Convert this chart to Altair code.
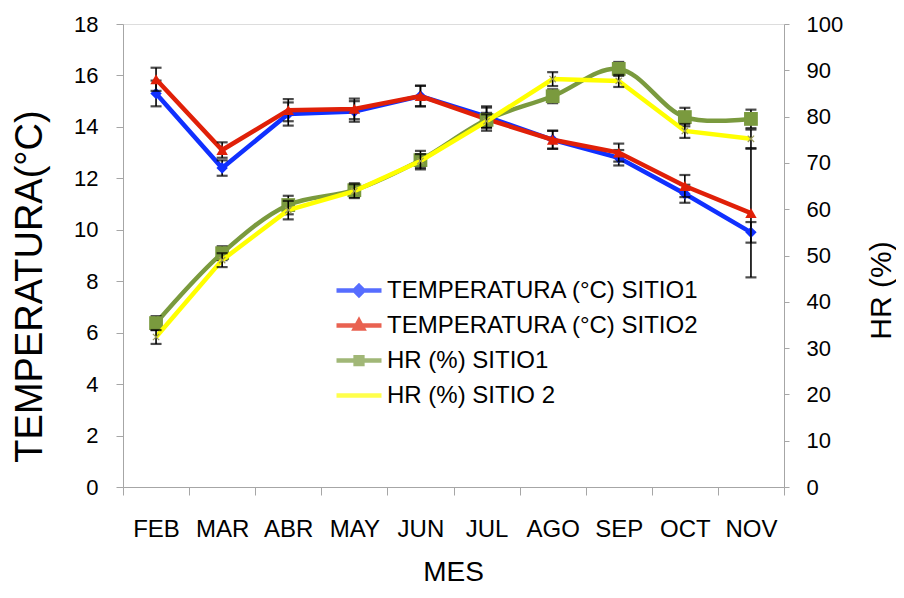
import altair as alt
import pandas as pd

# ── data ─────────────────────────────────────────────────────────────────────
meses = ["FEB", "MAR", "ABR", "MAY", "JUN", "JUL", "AGO", "SEP", "OCT", "NOV"]

temp_sitio1 = [15.3, 12.4, 14.5, 14.6, 15.2, 14.4, 13.5, 12.8, 11.4, 9.9]
temp_sitio1_err = [0.5, 0.3, 0.45, 0.4, 0.4, 0.4, 0.35, 0.3, 0.35, 0.4]
temp_sitio2 = [15.85, 13.1, 14.65, 14.7, 15.2, 14.3, 13.5, 13.0, 11.7, 10.65]
temp_sitio2_err = [0.45, 0.3, 0.43, 0.4, 0.4, 0.45, 0.35, 0.35, 0.43, 2.5]

hr_sitio1 = [35.4, 50.5, 60.9, 64.1, 70.6, 79.3, 84.4, 90.3, 79.9, 79.5]
hr_sitio1_err = [1.5, 1.5, 2.0, 1.5, 2.0, 1.5, 1.5, 1.5, 2.0, 2.0]
hr_sitio2 = [32.4, 49.0, 59.8, 63.9, 70.4, 79.0, 88.1, 87.7, 76.9, 75.2]
hr_sitio2_err = [1.5, 1.5, 2.0, 1.5, 1.5, 1.5, 1.5, 1.3, 1.5, 2.0]

series = [
    "TEMPERATURA (°C) SITIO1",
    "TEMPERATURA (°C) SITIO2",
    "HR (%) SITIO1",
    "HR (%) SITIO 2",
]
colores = ["#1030FF", "#E02008", "#7A9A3E", "#FFFF00"]

FONT = "Liberation Sans"
AXIS_GREY = "#A6A6A6"


def tabla(valores, errores):
    return pd.DataFrame({
        "mes": meses,
        "valor": valores,
        "lo": [v - e for v, e in zip(valores, errores)],
        "hi": [v + e for v, e in zip(valores, errores)],
    })


x_enc = alt.X(
    "mes:N",
    sort=meses,
    scale=alt.Scale(type="band", paddingInner=0, paddingOuter=0),
    axis=alt.Axis(
        title="MES", titleFontSize=28, titleFontWeight="normal", titleFont=FONT,
        titleX=330, titleY=85, titleBaseline="middle",
        labelAngle=0, labelFontSize=24, labelFont=FONT, labelColor="black",
        labelPadding=22, tickBand="extent", tickSize=8,
        domainColor=AXIS_GREY, tickColor=AXIS_GREY,
    ),
)


def y_temp(field):
    return alt.Y(
        field,
        scale=alt.Scale(domain=[0, 18]),
        axis=alt.Axis(
            orient="left", values=list(range(0, 19, 2)), grid=False,
            title="TEMPERATURA(°C)", titleFontSize=38, titleFontWeight="normal",
            titleFont=FONT, titleAngle=270, titleX=-93, titleY=262,
            titleBaseline="middle", titleAlign="center",
            labelFontSize=22, labelFont=FONT, labelColor="black",
            labelPadding=18, tickSize=7,
            domainColor=AXIS_GREY, tickColor=AXIS_GREY,
        ),
    )


def y_hr(field):
    return alt.Y(
        field,
        scale=alt.Scale(domain=[0, 100]),
        axis=alt.Axis(
            orient="right", values=list(range(0, 101, 10)), grid=False,
            title="HR (%)", titleFontSize=30, titleFontWeight="normal",
            titleFont=FONT, titleAngle=270, titleX=97, titleY=266,
            titleBaseline="middle", titleAlign="center",
            labelFontSize=22, labelFont=FONT, labelColor="black",
            labelPadding=17, tickSize=5,
            domainColor=AXIS_GREY, tickColor=AXIS_GREY,
        ),
    )


def serie(df, y_fn, color, shape, size, interp="linear", stroke=None):
    base = alt.Chart(df)
    linea = base.mark_line(color=color, strokeWidth=4.5, interpolate=interp).encode(
        x=x_enc, y=y_fn("valor:Q")
    )
    barra = base.mark_rule(color="black", strokeWidth=1.6).encode(
        x=x_enc, y=y_fn("lo:Q"), y2="hi:Q"
    )
    cap_lo = base.mark_tick(color="black", size=11, thickness=2.2, orient="horizontal").encode(
        x=x_enc, y=y_fn("lo:Q")
    )
    cap_hi = base.mark_tick(color="black", size=11, thickness=2.2, orient="horizontal").encode(
        x=x_enc, y=y_fn("hi:Q")
    )
    if stroke:
        pts = base.mark_point(shape=shape, size=size, filled=False, color=stroke,
                              strokeWidth=1.2, opacity=1)
    else:
        pts = base.mark_point(shape=shape, size=size, filled=True, color=color, opacity=1)
    puntos = pts.encode(x=x_enc, y=y_fn("valor:Q"))
    return [linea, barra, cap_lo, cap_hi, puntos]


# legend: line with marker, drawn as custom symbol paths
leg_shapes = [
    "M-1,0H1M0,-0.2L0.2,0L0,0.2L-0.2,0ZM-0.1,0H0.1",
    "M-1,0H1M0,-0.2L0.18,0.13L-0.18,0.13ZM-0.08,0.05H0.08",
    "M-1,0H1M-0.15,-0.15H0.15V0.15H-0.15ZM-0.15,-0.07H0.15M-0.15,0.07H0.15",
    "M-1,0H1",
]
leyenda = (
    alt.Chart(pd.DataFrame({"serie": series}))
    .transform_filter("false")
    .mark_point(filled=False)
    .encode(
        color=alt.Color(
            "serie:N",
            scale=alt.Scale(domain=series, range=colores),
            legend=alt.Legend(
                title=None, orient="none", legendX=211, legendY=249,
                symbolSize=2025, symbolStrokeWidth=4.5, clipHeight=35,
                labelFontSize=24, labelFont=FONT, labelColor="black",
                labelLimit=600, labelOffset=3, rowPadding=0, padding=0,
            ),
        ),
        shape=alt.Shape(
            "serie:N",
            scale=alt.Scale(domain=series, range=leg_shapes),
            legend=alt.Legend(title=None),
        ),
    )
)

capas_temp = (
    serie(tabla(temp_sitio1, temp_sitio1_err), y_temp, colores[0], "diamond", 130)
    + serie(tabla(temp_sitio2, temp_sitio2_err), y_temp, colores[1], "triangle-up", 130)
    + [leyenda]
)
capas_hr = (
    serie(tabla(hr_sitio1, hr_sitio1_err), y_hr, colores[2], "square", 190,
          interp="catmull-rom")
    + serie(tabla(hr_sitio2, hr_sitio2_err), y_hr, colores[3],
            "M-1,-1L1,1M-1,1L1,-1", 40, stroke="#9C9C5A")
)

chart = (
    alt.layer(alt.layer(*capas_temp), alt.layer(*capas_hr))
    .resolve_scale(y="independent")
    .properties(
        width=661,
        height=463,
        autosize=alt.AutoSizeParams(type="none"),
        padding={"left": 115, "top": 16, "right": 112, "bottom": 100},
    )
    .configure_view(strokeWidth=0)
    .configure(font=FONT)
)

chart.save("out.html", embed_options={"renderer": "svg", "actions": False})
